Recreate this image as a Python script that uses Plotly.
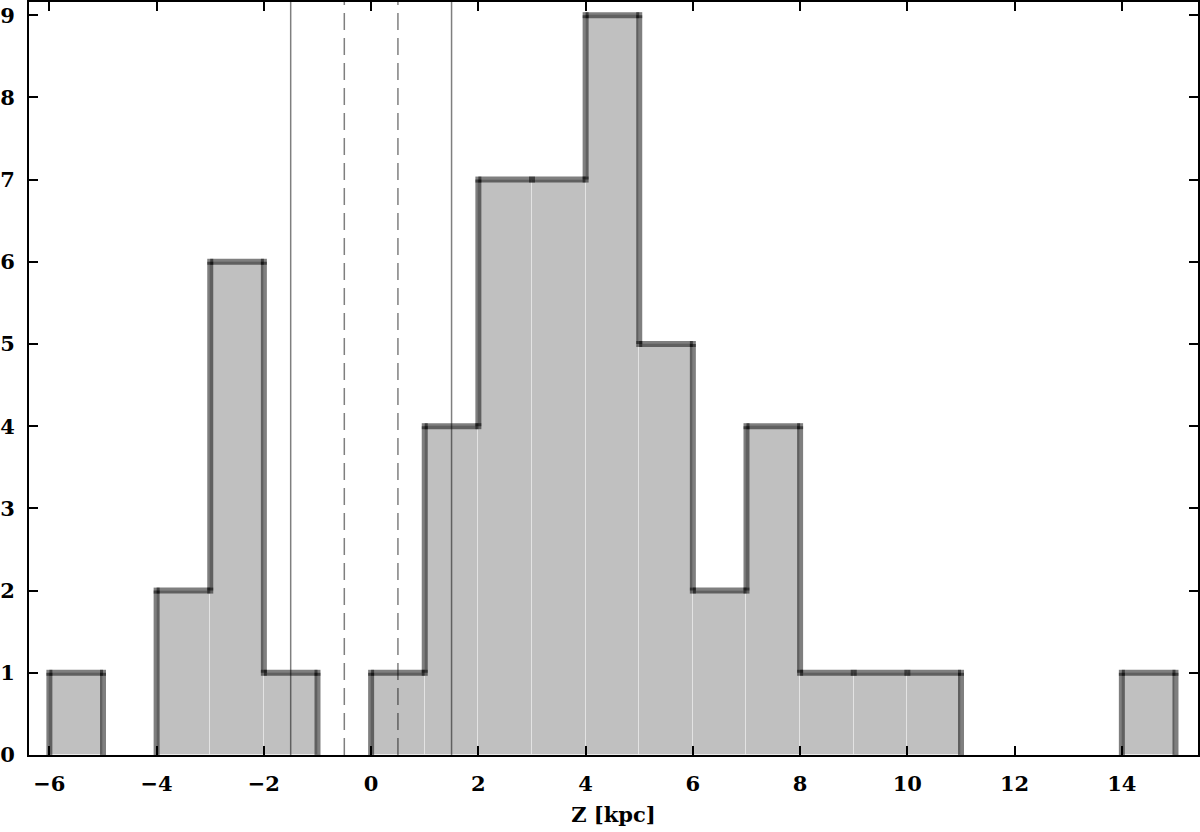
import plotly.graph_objects as go

# Histogram data: bin left edges (width 1 kpc) and counts
bin_left = [-6, -5, -4, -3, -2, -1, 0, 1, 2, 3, 4, 5, 6, 7, 8, 9, 10, 11, 12, 13, 14]
counts = [1, 0, 2, 6, 1, 0, 1, 4, 7, 7, 9, 5, 2, 4, 1, 1, 1, 0, 0, 0, 1]
bin_width = 1.0

# Reference vertical lines
solid_lines = [-1.5, 1.5]
dashed_lines = [-0.5, 0.5]

x_ticks = [-6, -4, -2, 0, 2, 4, 6, 8, 10, 12, 14]
y_ticks = [0, 1, 2, 3, 4, 5, 6, 7, 8, 9]

FONT = "DejaVu Serif"
EDGE = "rgba(0,0,0,0.5)"

fig = go.Figure()

# filled bars
centers = [b + bin_width / 2 for b in bin_left]
fig.add_trace(go.Bar(
    x=centers, y=counts, width=bin_width,
    marker=dict(color="#c0c0c0", line=dict(color="rgba(255,255,255,0.35)", width=1)),
    showlegend=False, hoverinfo="skip",
))

# step outline
edges = bin_left + [bin_left[-1] + bin_width]
padded = [0] + counts + [0]
lx, ly = [], []
cx, cy = [], []
for i, c in enumerate(counts):
    if c > 0:
        lx += [edges[i], edges[i + 1], None]
        ly += [c, c, None]
        for p in (edges[i], edges[i + 1]):
            if (p, c) not in zip(cx, cy):
                cx.append(p)
                cy.append(c)
for j, e in enumerate(edges):
    a, b = padded[j], padded[j + 1]
    if a != b:
        lx += [e, e, None]
        ly += [min(a, b), max(a, b), None]

fig.add_trace(go.Scatter(x=lx, y=ly, mode="lines",
                         line=dict(color=EDGE, width=6),
                         showlegend=False, hoverinfo="skip"))
fig.add_trace(go.Scatter(x=cx, y=cy, mode="markers",
                         marker=dict(symbol="square", size=6, color=EDGE, line=dict(width=0)),
                         showlegend=False, hoverinfo="skip"))

for xv in solid_lines:
    fig.add_shape(type="line", x0=xv, x1=xv, y0=0, y1=1, xref="x", yref="paper",
                  line=dict(color="rgba(0,0,0,0.5)", width=1.5), layer="above")
for xv in dashed_lines:
    fig.add_shape(type="line", x0=xv, x1=xv, y0=0, y1=1, xref="x", yref="paper",
                  line=dict(color="rgba(0,0,0,0.5)", width=1.5, dash="17px,8px"), layer="above")

axis_common = dict(
    showgrid=False, zeroline=False, showline=True, linecolor="black", linewidth=2,
    mirror="allticks", ticks="inside", ticklen=9, tickwidth=2, tickcolor="black",
    tickfont=dict(family=FONT, size=21, color="black", weight="bold"),
    automargin=False,
)

fig.update_layout(
    width=1200, height=832,
    margin=dict(l=29, r=2, t=2, b=77),
    paper_bgcolor="white", plot_bgcolor="white",
    bargap=0,
    xaxis=dict(range=[-6.38, 15.42], tickmode="array", tickvals=x_ticks,
               ticktext=[str(v).replace("-", "\u2212") for v in x_ticks],
               ticklabelstandoff=9,
               title=dict(text="Z [kpc]", font=dict(family=FONT, size=21, color="black", weight="bold"),
                          standoff=12),
               **axis_common),
    yaxis=dict(range=[0, 9.16], tickmode="array", tickvals=y_ticks,
               ticktext=[str(v) for v in y_ticks], ticklabelstandoff=8,
               **axis_common),
)

fig.write_html("out.html", config={"displayModeBar": False},
               post_script="document.body.style.margin='0px';")
